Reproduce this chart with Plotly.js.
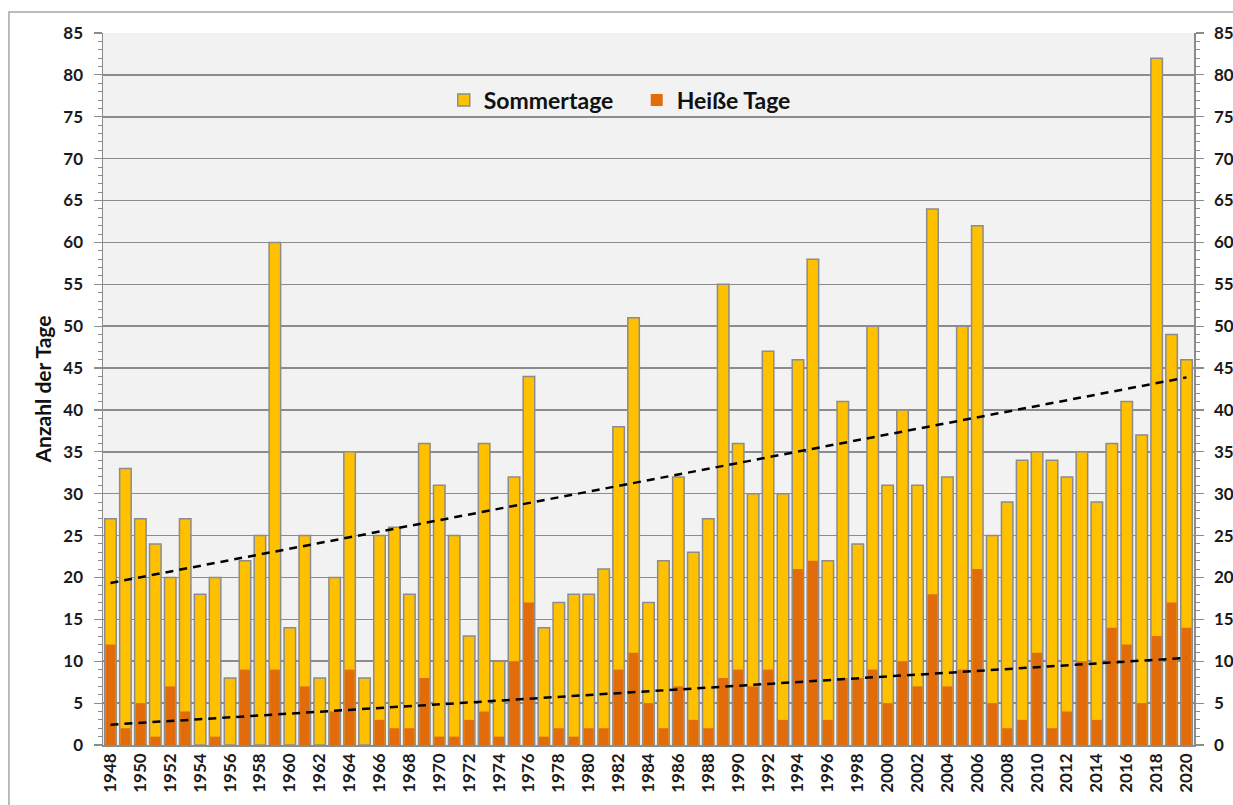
<!DOCTYPE html>
<html>
<head>
<meta charset="utf-8">
<script src="https://cdn.plot.ly/plotly-3.0.1.min.js"></script>
<style>html,body{margin:0;padding:0;background:#fff;}#chart{width:1233px;height:805px;}</style>
</head>
<body>
<div id="chart"></div>
<script>
const years = [];
for (let y = 1948; y <= 2020; y++) years.push(y);

const sommertage = [
  27, 33, 27, 24, 20, 27, 18, 20, 8, 22,
  25, 60, 14, 25, 8, 20, 35, 8, 25, 26,
  18, 36, 31, 25, 13, 36, 10, 32, 44, 14,
  17, 18, 18, 21, 38, 51, 17, 22, 32, 23,
  27, 55, 36, 30, 47, 30, 46, 58, 22, 41,
  24, 50, 31, 40, 31, 64, 32, 50, 62, 25,
  29, 34, 35, 34, 32, 35, 29, 36, 41, 37,
  82, 49, 46
];
const heisseTage = [
  12, 2, 5, 1, 7, 4, 0, 1, 0, 9,
  0, 9, 0, 7, 0, 4, 9, 0, 3, 2,
  2, 8, 1, 1, 3, 4, 1, 10, 17, 1,
  2, 1, 2, 2, 9, 11, 5, 2, 7, 3,
  2, 8, 9, 7, 9, 3, 21, 22, 3, 8,
  8, 9, 5, 10, 7, 18, 7, 9, 21, 5,
  2, 3, 11, 2, 4, 10, 3, 14, 12, 5,
  13, 17, 14
];
const xTickVals = [];
for (let y = 1948; y <= 2020; y += 2) xTickVals.push(y);
const yTickVals = [0,5,10,15,20,25,30,35,40,45,50,55,60,65,70,75,80,85];

function linFit(xs, ys) {
  const n = xs.length;
  let sx = 0, sy = 0, sxx = 0, sxy = 0;
  for (let i = 0; i < n; i++) { sx += xs[i]; sy += ys[i]; sxx += xs[i]*xs[i]; sxy += xs[i]*ys[i]; }
  const b = (n*sxy - sx*sy) / (n*sxx - sx*sx);
  const a = (sy - b*sx) / n;
  return xs.map(x => a + b*x);
}
const trendSommer = linFit(years, sommertage);
const trendHeiss = linFit(years, heisseTage);
const trendX = [years[0], years[years.length-1]];

const FONT = 'Lato, "Open Sans", sans-serif';
const GRID = '#8c8c8c';

const traces = [
  {
    type: 'bar', x: years, y: sommertage, name: 'Sommertage',
    width: 0.77,
    marker: { color: '#FFC000', line: { color: '#8c8c8c', width: 1.5 } },
    hoverinfo: 'x+y'
  },
  {
    type: 'bar', x: years, y: heisseTage, name: 'Heiße Tage',
    width: 0.67,
    marker: { color: '#E36C0A', line: { width: 0 } },
    hoverinfo: 'x+y'
  },
  {
    type: 'scatter', mode: 'lines', x: trendX, y: [trendSommer[0], trendSommer[trendSommer.length-1]],
    yaxis: 'y2', showlegend: false, hoverinfo: 'skip',
    line: { color: '#000', width: 2.5, dash: '8px,6px' }
  },
  {
    type: 'scatter', mode: 'lines', x: trendX, y: [trendHeiss[0], trendHeiss[trendHeiss.length-1]],
    yaxis: 'y2', showlegend: false, hoverinfo: 'skip',
    line: { color: '#000', width: 2.5, dash: '8px,6px' }
  }
];

const yCommon = {
  range: [0, 85], tickvals: yTickVals, ticktext: yTickVals.map(String),
  ticks: 'outside', ticklen: 8, tickwidth: 1.2, tickcolor: GRID,
  ticklabelstandoff: 7,
  minor: { dtick: 1, tick0: 0, ticks: 'outside', ticklen: 4, tickwidth: 1, tickcolor: GRID, showgrid: false },
  showline: true, linecolor: GRID, linewidth: 1.5,
  tickfont: { family: FONT, size: 17, color: '#1a1a1a', weight: 'bold' },
  fixedrange: true, zeroline: false
};

const layout = {
  width: 1233, height: 805,
  margin: { l: 103, r: 39, t: 33, b: 60 },
  paper_bgcolor: '#ffffff', plot_bgcolor: '#f2f2f2',
  barmode: 'overlay',
  showlegend: true,
  legend: {
    orientation: 'h', x: 0.3123, xanchor: 'left', y: 0.906, yanchor: 'middle',
    bgcolor: 'rgba(0,0,0,0)',
    font: { family: FONT, size: 23, color: '#111', weight: 'bold' },
    itemwidth: 30, entrywidth: 148, entrywidthmode: 'pixels', traceorder: 'normal'
  },
  xaxis: {
    range: [1947.5, 2020.5], tickvals: xTickVals, ticktext: xTickVals.map(String),
    tickangle: -90, ticks: '', showgrid: false, zeroline: false,
    showline: true, linecolor: GRID, linewidth: 1.5,
    tickfont: { family: FONT, size: 17, color: '#1a1a1a', weight: 'bold' }
  },
  yaxis: Object.assign({}, yCommon, {
    showgrid: true, gridcolor: GRID, gridwidth: 1.5,
    title: { text: 'Anzahl der Tage', font: { family: FONT, size: 21, color: '#111', weight: 'bold' }, standoff: 6 }
  }),
  yaxis2: Object.assign({}, yCommon, {
    overlaying: 'y', side: 'right', showgrid: false
  }),
  shapes: [
    { type: 'rect', xref: 'paper', yref: 'paper',
      x0: -0.0862, x1: 1.2, y0: -0.2, y1: 1.0295,
      line: { color: '#a6a6a6', width: 1.5 }, fillcolor: 'rgba(0,0,0,0)', layer: 'below' }
  ]
};

Plotly.newPlot('chart', traces, layout, { staticPlot: true, displayModeBar: false });
</script>
</body>
</html>
